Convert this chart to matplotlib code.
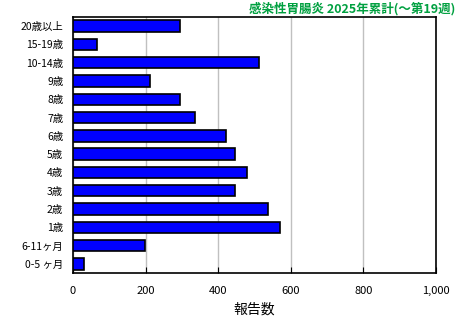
"""Cumulative gastroenteritis reports by age group (horizontal bars)."""

import matplotlib
matplotlib.use("Agg")
import matplotlib.pyplot as plt
import numpy as np

plt.rcParams["font.family"] = ["Noto Sans CJK JP", "DejaVu Sans"]

age_groups = ["20歳以上", "15-19歳", "10-14歳", "9歳", "8歳", "7歳", "6歳",
              "5歳", "4歳", "3歳", "2歳", "1歳", "6-11ヶ月", "0-5 ヶ月"]
reports = [295, 66, 512, 212, 295, 336, 421, 446, 479, 446, 537, 570, 198, 30]
x_ticks = [0, 200, 400, 600, 800, 1000]
x_tick_labels = ["0", "200", "400", "600", "800", "1,000"]

fig = plt.figure(figsize=(4.6, 3.2), dpi=100)
ax = fig.add_axes([73 / 460, 1 - 273 / 320, 363 / 460, 256 / 320])

y = np.arange(len(age_groups))
ax.barh(y, reports, height=0.62, color="#0000FF", edgecolor="black",
        linewidth=1.2, zorder=3)

ax.set_xlim(0, 1000)
ax.set_ylim(len(age_groups) - 0.5, -0.5)
ax.set_yticks(y)
ax.set_yticklabels(age_groups, fontsize=7.5)
ax.set_xticks(x_ticks)
ax.set_xticklabels(x_tick_labels, fontsize=8)
ax.tick_params(axis="y", length=0, pad=7)
ax.tick_params(axis="x", direction="in", length=4, pad=9)
ax.grid(axis="x", color="#C0C0C0", linewidth=1, zorder=0)
for spine in ax.spines.values():
    spine.set_linewidth(1.2)

ax.set_xlabel("報告数", fontsize=10, labelpad=5)
fig.text(0.99, 0.995, "感染性胃腸炎 2025年累計(〜第19週)", ha="right", va="top",
         fontsize=9, fontweight="bold", color="#00A040")

fig.savefig("out.png", dpi=100)
